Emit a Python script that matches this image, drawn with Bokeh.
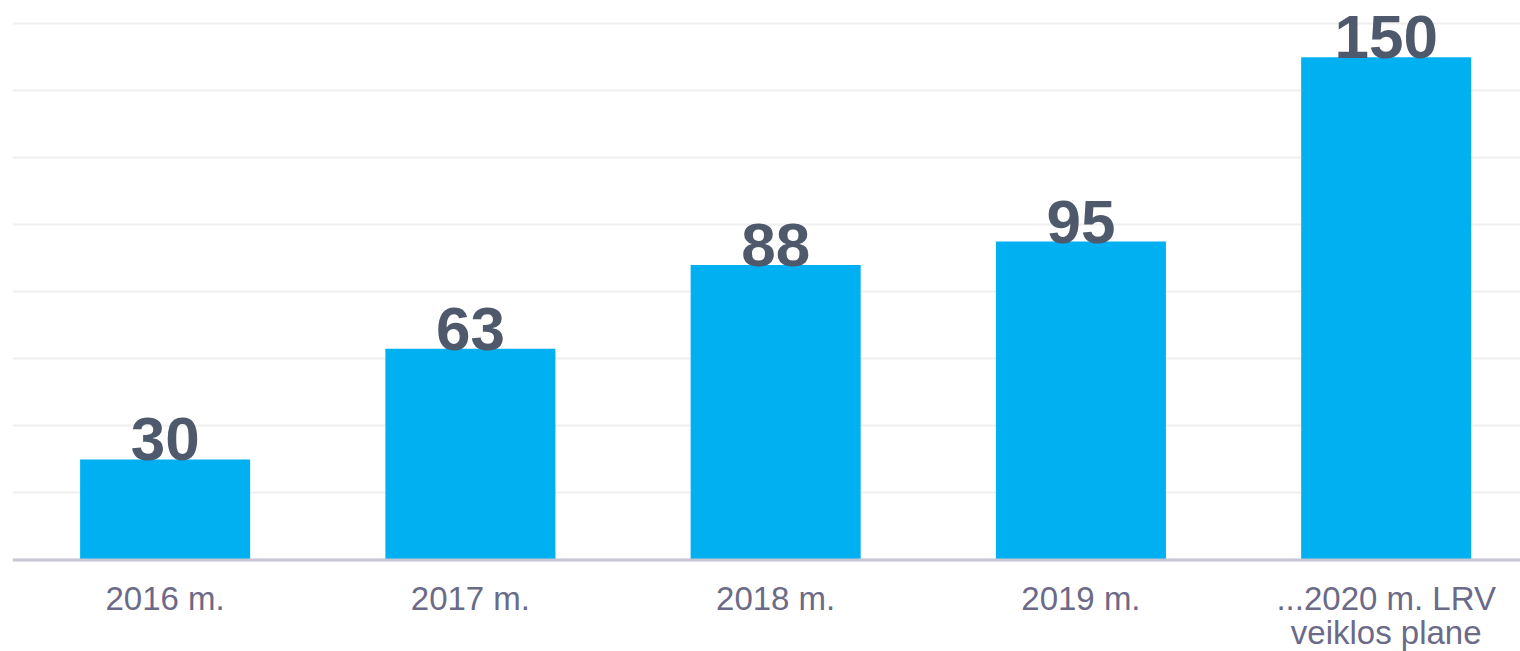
from bokeh.plotting import figure
from bokeh.models import Range1d, FixedTicker, ColumnDataSource, Span
from bokeh.core.properties import value
from bokeh.embed import file_html
from bokeh.resources import INLINE

categories = ["2016 m.", "2017 m.", "2018 m.", "2019 m.", "...2020 m. LRV\nveiklos plane"]
values = [30, 63, 88, 95, 150]
grid_ticks = [0, 20, 40, 60, 80, 100, 120, 140, 160]

xs = list(range(len(categories)))
line1 = [c.split("\n")[0] for c in categories]
line2 = [c.split("\n")[1] if "\n" in c else "" for c in categories]
src = ColumnDataSource(dict(x=xs, top=values, label=[str(v) for v in values],
                            l1=line1, l2=line2, zero=[0] * len(xs)))

p = figure(width=1520, height=651, output_backend="svg", toolbar_location=None,
           x_range=Range1d(-0.5, 4.44), y_range=Range1d(-27.3, 166.9),
           min_border_left=12, min_border_right=0, min_border_top=0, min_border_bottom=0)
p.outline_line_color = None
p.background_fill_color = "white"
p.border_fill_color = "white"
p.xaxis.visible = False
p.yaxis.visible = False

p.ygrid.ticker = FixedTicker(ticks=grid_ticks)
p.ygrid.grid_line_color = "#efefef"
p.ygrid.grid_line_width = 2
p.xgrid.visible = False

p.add_layout(Span(location=0, dimension="width", line_color="#c8c5d5", line_width=3))

p.vbar(x="x", top="top", width=0.557, bottom=0, source=src, color="#00b0f0", line_color=None)
p.text(x="x", y="top", text="label", source=src, text_align="center", text_baseline="alphabetic",
       y_offset=-20, text_font=value("Liberation Sans"), text_font_style="bold",
       text_font_size="62px", text_color="#4e5a6b")

for col, off in (("l1", 20), ("l2", 54)):
    p.text(x="x", y="zero", text=col, source=src, text_align="center", text_baseline="top",
           y_offset=off, text_font=value("Liberation Sans"), text_font_size="33px",
           text_color="#6b6a88")

open("out.html", "w").write(file_html(p, INLINE))
